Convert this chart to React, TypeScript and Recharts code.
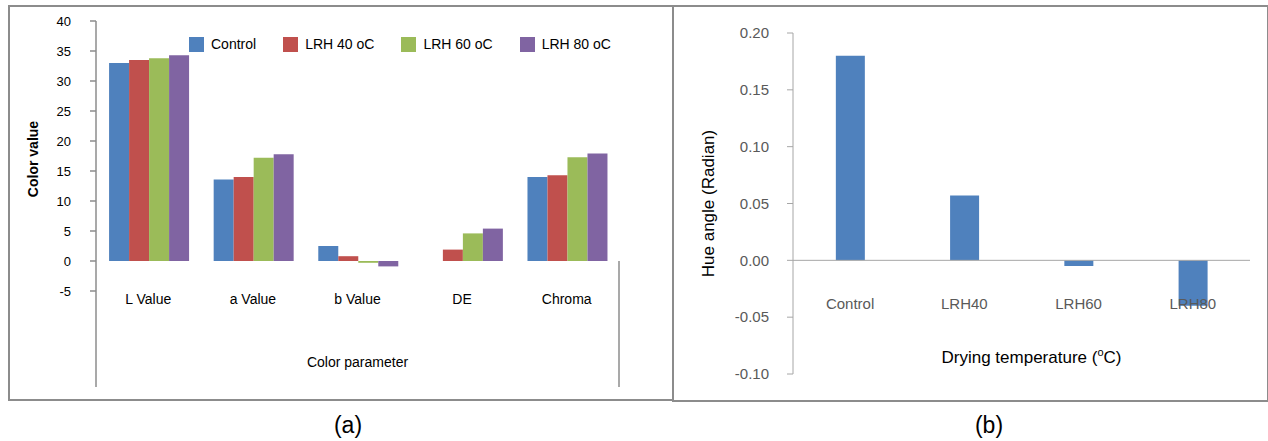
import React from "react";
import {
    BarChart,
    Bar,
    XAxis,
    YAxis,
    Legend,
    ReferenceLine,
    ReferenceArea,
} from "recharts";

// (a) colour parameters
const colorParams = ["L Value", "a Value", "b Value", "DE", "Chroma"];
const controlValues = [33.0, 13.6, 2.5, 0, 14.0];
const lrh40Values = [33.5, 14.0, 0.8, 1.9, 14.3];
const lrh60Values = [33.8, 17.2, -0.3, 4.6, 17.3];
const lrh80Values = [34.3, 17.8, -0.9, 5.4, 17.9];
const seriesNames = ["Control", "LRH 40 oC", "LRH 60 oC", "LRH 80 oC"];
const seriesKeys = ["control", "lrh40", "lrh60", "lrh80"];
const seriesColors = ["#4F81BD", "#C0504D", "#9BBB59", "#8064A2"];
const colorTicks = [-5, 0, 5, 10, 15, 20, 25, 30, 35, 40];

// (b) hue angle
const dryingGroups = ["Control", "LRH40", "LRH60", "LRH80"];
const hueAngles = [0.18, 0.057, -0.005, -0.04];
const hueTicks = [-0.1, -0.05, 0, 0.05, 0.1, 0.15, 0.2];

const FONT = "'Liberation Sans', Arial, sans-serif";
const FRAME = "#8C8C8C";

const colorData = colorParams.map((param, i) => ({
    param,
    control: controlValues[i],
    lrh40: lrh40Values[i],
    lrh60: lrh60Values[i],
    lrh80: lrh80Values[i],
}));

const hueData = dryingGroups.map((group, i) => ({ group, hue: hueAngles[i] }));

function ColorLegend() {
    return (
        <div style={{ display: "flex", alignItems: "center", fontFamily: FONT, fontSize: 14, color: "#000" }}>
            {seriesNames.map((name, i) => (
                <div key={name} style={{ display: "flex", alignItems: "center", marginRight: 27 }}>
                    <span style={{ width: 15, height: 15, background: seriesColors[i], marginRight: 7, display: "inline-block" }} />
                    <span>{name}</span>
                </div>
            ))}
        </div>
    );
}

function ColorChart() {
    const lastParam = colorParams[colorParams.length - 1];
    return (
        <BarChart
            width={672}
            height={400}
            data={colorData}
            margin={{ top: 21, right: 53, bottom: 12, left: 20 }}
            barCategoryGap="12.5%"
            barGap={0}
        >
            <XAxis
                dataKey="param"
                height={1}
                axisLine={false}
                tickLine={false}
                tickSize={0}
                tickMargin={0}
                interval={0}
                tick={(p: any) => (
                    <text x={p.x} y={p.y - 83} textAnchor="middle" fontFamily={FONT} fontSize={14} fill="#000">
                        {p.payload.value}
                    </text>
                )}
                label={{
                    content: (p: any) => (
                        <text
                            x={p.viewBox.x + p.viewBox.width / 2}
                            y={p.viewBox.y - 20}
                            textAnchor="middle"
                            fontFamily={FONT}
                            fontSize={14}
                            fill="#000"
                        >
                            Color parameter
                        </text>
                    ),
                }}
            />
            <YAxis
                width={76}
                domain={[-21, 40]}
                ticks={colorTicks}
                interval={0}
                axisLine={{ stroke: FRAME, strokeWidth: 1.5 }}
                tickLine={{ stroke: FRAME, strokeWidth: 1.5 }}
                tickSize={6}
                tickMargin={19}
                tick={{ fontFamily: FONT, fontSize: 13, fill: "#000" }}
                label={{
                    content: (p: any) => {
                        const x = p.viewBox.x + 13;
                        const y = p.viewBox.y + 138;
                        return (
                            <text
                                x={x}
                                y={y}
                                transform={`rotate(-90 ${x} ${y})`}
                                textAnchor="middle"
                                dominantBaseline="central"
                                fontFamily={FONT}
                                fontSize={14}
                                fontWeight="bold"
                                fill="#000"
                            >
                                Color value
                            </text>
                        );
                    },
                }}
            />
            {/* right edge line below zero, drawn at the end of the last category band */}
            <ReferenceArea
                x1={lastParam}
                x2={lastParam}
                y1={-21}
                y2={0}
                shape={(p: any) => (
                    <line
                        x1={p.x + p.width}
                        x2={p.x + p.width}
                        y1={p.y}
                        y2={p.y + p.height}
                        stroke={FRAME}
                        strokeWidth={1.5}
                    />
                )}
            />
            <Legend
                layout="horizontal"
                verticalAlign="middle"
                align="center"
                wrapperStyle={{ top: 36, left: 189, width: 460, height: 16 }}
                content={() => <ColorLegend />}
            />
            {seriesKeys.map((key, i) => (
                <Bar
                    key={key}
                    dataKey={key}
                    name={seriesNames[i]}
                    fill={seriesColors[i]}
                    isAnimationActive={false}
                />
            ))}
        </BarChart>
    );
}

function HueChart() {
    return (
        <BarChart
            width={596}
            height={400}
            data={hueData}
            margin={{ top: 33, right: 18, bottom: 25, left: 20 }}
            barCategoryGap="37.5%"
        >
            <YAxis
                width={101}
                domain={[-0.1, 0.2]}
                ticks={hueTicks}
                interval={0}
                tickFormatter={(v: number) => v.toFixed(2)}
                axisLine={{ stroke: "#A6A6A6" }}
                tickLine={{ stroke: "#A6A6A6" }}
                tickSize={6}
                tickMargin={18}
                tick={{ fontFamily: FONT, fontSize: 15, fill: "#595959" }}
                label={{
                    content: (p: any) => {
                        const x = p.viewBox.x + 16;
                        const y = p.viewBox.y + p.viewBox.height / 2;
                        return (
                            <text
                                x={x}
                                y={y}
                                transform={`rotate(-90 ${x} ${y})`}
                                textAnchor="middle"
                                dominantBaseline="central"
                                fontFamily={FONT}
                                fontSize={17}
                                fill="#000"
                            >
                                Hue angle (Radian)
                            </text>
                        );
                    },
                }}
            />
            <XAxis
                dataKey="group"
                height={1}
                axisLine={false}
                tickLine={false}
                tickSize={0}
                tickMargin={0}
                interval={0}
                tick={(p: any) => (
                    <text x={p.x} y={p.y - 65} textAnchor="middle" fontFamily={FONT} fontSize={15} fill="#595959">
                        {p.payload.value}
                    </text>
                )}
                label={{
                    content: (p: any) => (
                        <text
                            x={p.viewBox.x + p.viewBox.width / 2 + 10}
                            y={p.viewBox.y - 11}
                            textAnchor="middle"
                            fontFamily={FONT}
                            fontSize={17}
                            fill="#000"
                        >
                            <tspan>Drying temperature (</tspan>
                            <tspan dy={-7} fontSize={11}>o</tspan>
                            <tspan dy={7}>C)</tspan>
                        </text>
                    ),
                }}
            />
            <ReferenceLine y={0} stroke="#A6A6A6" />
            <Bar dataKey="hue" fill="#4F81BD" isAnimationActive={false} />
        </BarChart>
    );
}

export default function App() {
    return (
        <div style={{ position: "absolute", left: 0, top: 0, width: 1268, height: 441, background: "#fff", fontFamily: FONT }}>
            <div style={{ position: "absolute", left: 8, top: 5, width: 662, height: 392, border: `2px solid ${FRAME}` }} />
            <div style={{ position: "absolute", left: 672, top: 5, width: 593, height: 393, border: `2px solid ${FRAME}` }} />
            <div style={{ position: "absolute", left: 0, top: 0 }}>
                <ColorChart />
            </div>
            <div style={{ position: "absolute", left: 672, top: 0 }}>
                <HueChart />
            </div>
            <div style={{ position: "absolute", left: 348, top: 425, transform: "translate(-50%, -50%)", fontSize: 23, color: "#000" }}>(a)</div>
            <div style={{ position: "absolute", left: 989, top: 425, transform: "translate(-50%, -50%)", fontSize: 23, color: "#000" }}>(b)</div>
        </div>
    );
}
